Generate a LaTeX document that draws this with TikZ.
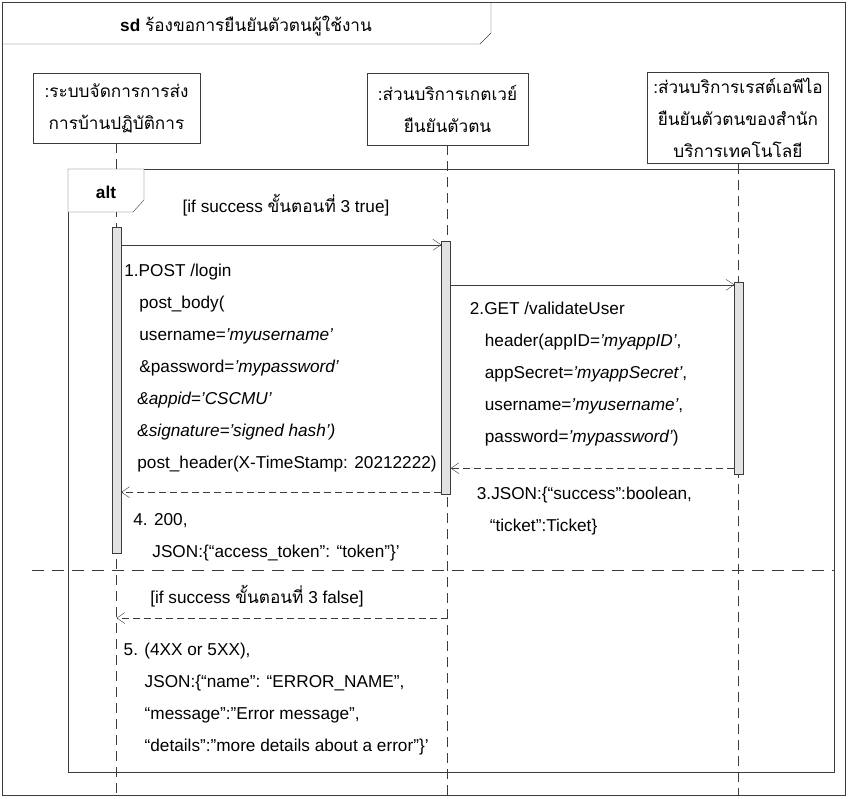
\documentclass[tikz,border=0pt]{standalone}
\usepackage{fontspec}
\setmainfont{Liberation Sans}
\newfontfamily\thaifont[Script=Thai]{Loma}
\usepackage{tikz}
\usetikzlibrary{arrows.meta}
\usetikzlibrary{positioning}
\definecolor{linegray}{RGB}{60,60,60}
\definecolor{bargray}{RGB}{226,226,226}
\tikzset{
    obj/.style = {draw=linegray, fill=white, align=center, font=\thaifont},
    bar/.style = {draw=linegray, fill=bargray, minimum width=9pt, inner sep=0pt},
    life/.style = {draw=linegray, dash pattern=on 10pt off 6pt},
    msg/.style = {draw=linegray, ->},
    ret/.style = {draw=linegray, ->, dash pattern=on 7pt off 4pt},
    lbl/.style = {align=left, inner sep=0pt},
}

\begin{document}
\fontsize{17.2}{32}\selectfont
\begin{tikzpicture}[x=1pt,y=-1pt,>={Straight Barb[length=8pt,width=11pt]}]
\useasboundingbox (0,0) rectangle (848,798);
\coordinate (bot) at (0,795);

% frame
\draw[linegray] (2,2) rectangle (845,795);
\draw[linegray] (2,44) -- (480,44) -- (491,33) -- (491,2);
\node (title) at (246,26) {\textbf{sd} {\thaifont ร้องขอการยืนยันตัวตนผู้ใช้งาน}};

% objects
\node (sys)  [obj, minimum width=167pt, minimum height=70pt] at (116.5,108)
 {:ระบบจัดการการส่ง\\การบ้านปฏิบัติการ};
\node (gw)   [obj, minimum width=161pt, minimum height=72pt] at (447.5,109)
 {:ส่วนบริการเกตเวย์\\ยืนยันตัวตน};
\node (rest) [obj, minimum width=180pt, minimum height=90pt] at (738,118)
 {:ส่วนบริการเรสต์เอพีไอ\\ยืนยันตัวตนของสำนัก\\บริการเทคโนโลยี};

\draw[life] (sys) -- (sys |- bot);
\draw[life] (gw) -- (gw |- bot);
\draw[life] (rest) -- (rest |- bot);

% alt fragment
\draw[linegray] (68,169) rectangle (834,772);
\filldraw[draw=linegray, fill=white] (68,212) -- (133,212) -- (144,200) -- (144,169) -- (68,169) -- cycle;
\node (alt) at (106,192) {\textbf{alt}};
\node (g1) at (286,205) {[if success {\thaifont ขั้นตอนที่} 3 true]};
\coordinate (divl) at (32,570);
\coordinate (divr) at (834,570);
\draw[linegray, dash pattern=on 12pt off 8pt] (divl) -- (divr);
\node (g2) at (257,596) {[if success {\thaifont ขั้นตอนที่} 3 false]};

% activations
\node (bar1) [bar, minimum height=326pt] at (116.5,390) {};
\node (bar2) [bar, minimum height=253pt] at (446,367.5) {};
\node (bar3) [bar, minimum height=192pt] at (739,378) {};

% messages
\path (bar1.north east) ++(0,18) coordinate (m1s);
\draw[msg] (m1s) -- (m1s -| bar2.west);
\node (m1lbl) [lbl, below right=19pt and 3pt of m1s]
 {1.POST /login\\
  \hspace*{15pt}post\_body(\\
  \hspace*{15pt}username=\textit{'myusername'}\\
  \hspace*{15pt}\&password=\textit{'mypassword'}\\
  \hspace*{13pt}\textit{\&appid='CSCMU'}\\
  \hspace*{13pt}\textit{\&signature='signed hash')}\\
  \hspace*{13pt}post\_header(X-TimeStamp: 20212222)};

\path (bar2.north east) ++(0,44) coordinate (m2s);
\draw[msg] (m2s) -- (m2s -| bar3.west);
\node (m2lbl) [lbl, below right=17pt and 19pt of m2s]
 {2.GET /validateUser\\
  \hspace*{15pt}header(appID=\textit{'myappID'},\\
  \hspace*{15pt}appSecret=\textit{'myappSecret'},\\
  \hspace*{15pt}username=\textit{'myusername'},\\
  \hspace*{15pt}password=\textit{'mypassword'})};

\path (bar3.south west) ++(0,-6) coordinate (m3s);
\draw[ret] (m3s) -- (m3s -| bar2.east) coordinate (m3e);
\node (m3lbl) [lbl, below right=19pt and 26pt of m3e]
 {3.JSON:\{“success”:boolean,\\
  \hspace*{13pt}“ticket”:Ticket\}};

\path (bar2.south west) ++(0,-2) coordinate (m4s);
\draw[ret] (m4s) -- (m4s -| bar1.east) coordinate (m4e);
\node (m4lbl) [lbl, below right=21pt and 12pt of m4e]
 {4. 200,\\
  \hspace*{19pt}JSON:\{“access\_token”: “token”\}’};

\coordinate (m5s) at (448,618);
\draw[ret] (m5s) -- (m5s -| sys) coordinate (m5e);
\node (m5lbl) [lbl, below right=25pt and 7pt of m5e]
 {5. (4XX or 5XX),\\
  \hspace*{21pt}JSON:\{“name”: “ERROR\_NAME”,\\
  \hspace*{21pt}“message”:”Error message”,\\
  \hspace*{21pt}“details”:”more details about a error”\}’};
\end{tikzpicture}
\end{document}
